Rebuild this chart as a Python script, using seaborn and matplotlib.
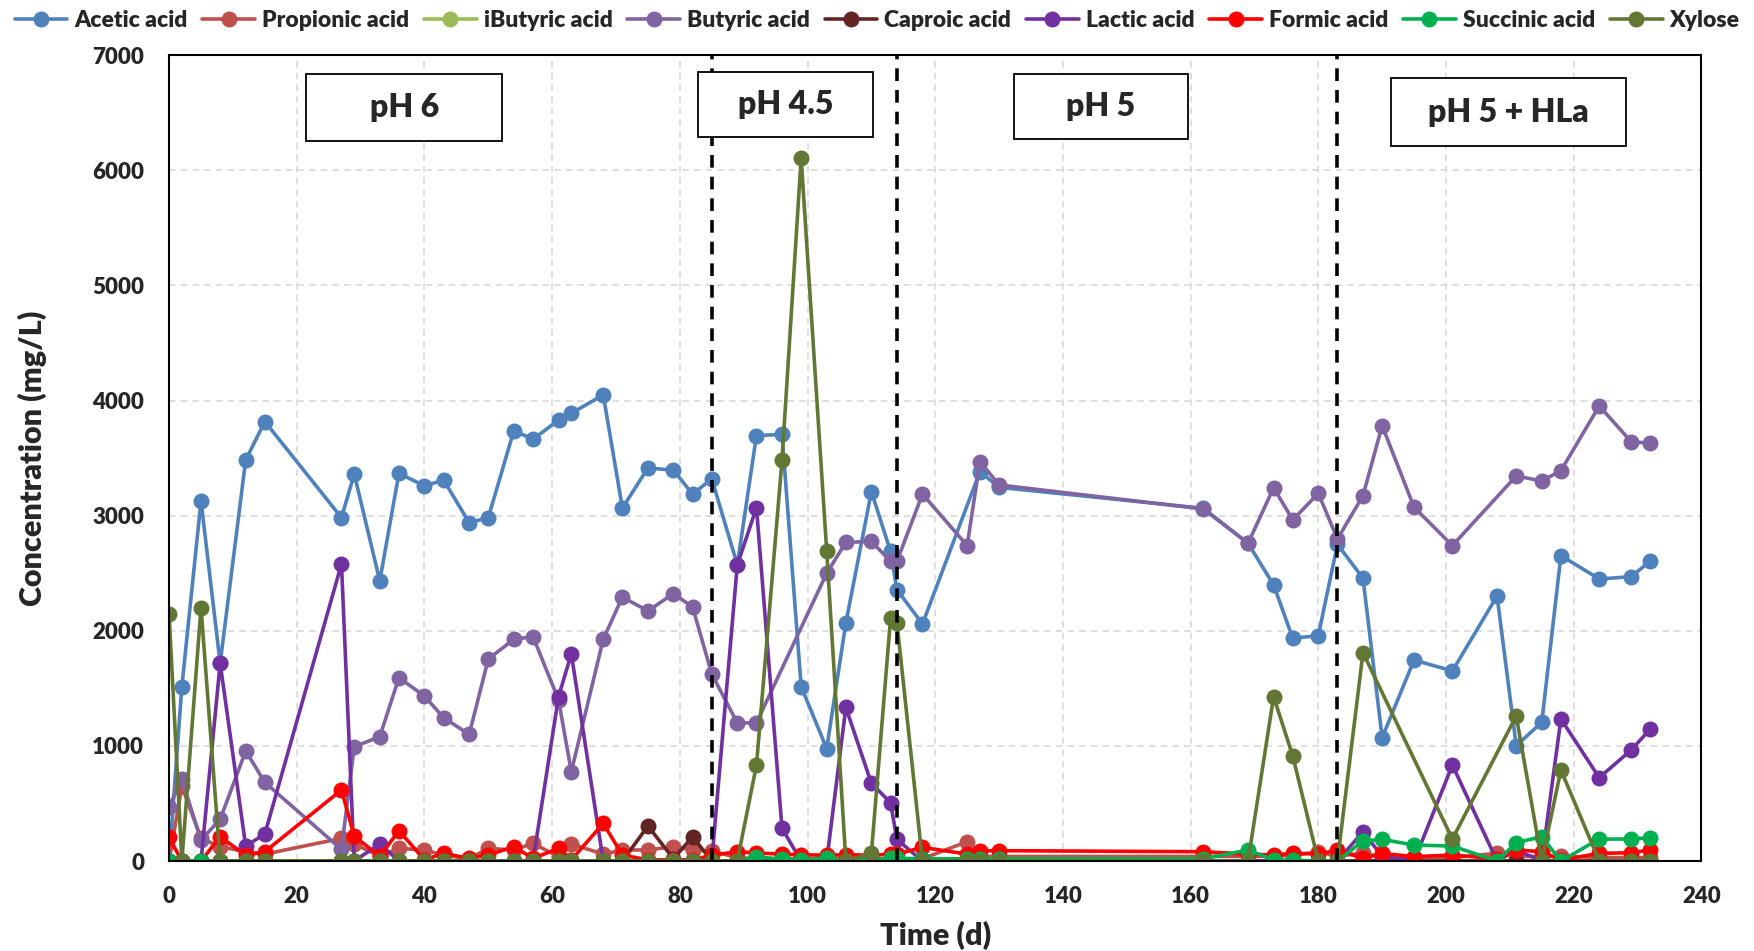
import numpy as np
import pandas as pd
import seaborn as sns
import matplotlib.pyplot as plt
from matplotlib.lines import Line2D
from matplotlib.patches import Rectangle

nan = np.nan

# sampling days (d)
days = [0, 2, 5, 8, 12, 15, 27, 29, 33, 36, 40, 43, 47, 50, 54, 57, 61, 63, 68, 71,
        75, 79, 82, 85, 89, 92, 96, 99, 103, 106, 110, 113, 114, 118, 125, 127, 130,
        162, 169, 173, 176, 180, 183, 187, 190, 195, 201, 208, 211, 215, 218, 224, 229, 232]

# concentrations (mg/L), nan = not measured
acetic = [0, 1515, 3128, 1717, 3484, 3817, 2983, 3362, 2433, 3368, 3258, 3310, 2939, 2983,
          3739, 3663, 3831, 3889, 4049, 3066, 3415, 3394, 3187, 3320, 2573, 3696, 3705, 1516,
          976, 2068, 3208, 2690, 2358, 2059, nan, 3383, 3246, 3064, 2760, 2398, 1935, 1958,
          2751, 2456, 1072, 1746, 1651, 2302, 1002, 1205, 2653, 2450, 2470, 2606]
propionic = [0, 650, 197, 125, 80, 60, 197, 150, 40, 110, 96, 52, 20, 110, 96, 153, 38, 148,
             60, 96, 96, 125, 96, 87, 30, 20, 20, 20, 20, 20, 20, 20, 20, 20, 168, 40, 40,
             40, 40, 40, 50, 81, 40, 72, 30, 30, 30, 67, 40, 40, 43, 30, 30, 30]
ibutyric = [0] * 54
butyric = [472, 709, 182, 362, 956, 683, 101, 993, 1080, 1593, 1433, 1245, 1100, 1755, 1926,
           1949, 1400, 776, 1926, 2293, 2172, 2323, 2206, 1624, 1200, 1200, nan, nan, 2500,
           2768, 2776, 2604, 2604, 3187, 2740, 3469, 3267, 3058, 2760, 3243, 2963, 3194, 2797,
           3174, 3782, 3073, 2740, nan, 3345, 3301, 3391, 3953, 3643, 3629]
caproic = [0, 0, 0, 0, 0, 0, 0, 0, 0, 0, 0, 0, 0, 0, 0, 0, 0, 0, 0, 0, 304, 20, 211, 0, 0,
           0, 0, 0, 0, 0, 0, 0, 0, 0, 0, 0, 0, 0, 0, 0, 0, 0, 0, 0, 0, 0, 0, 0, 0, 0, 0, 0, 0, 0]
lactic = [0, 0, 0, 1717, 130, 235, 2580, 0, 148, 0, 0, 0, 0, 0, 0, 0, 1428, 1800, 0, 0, 0, 0,
          0, 0, 2573, 3070, 284, 0, 0, 1334, 675, 507, 188, 0, 0, 0, 0, 0, 0, 0, 0, 0, 0, 255,
          40, 0, 834, 0, 96, 0, 1234, 724, 964, 1147]
formic = [205, 0, 0, 211, 50, 81, 617, 217, 40, 264, 10, 67, 23, 52, 125, 23, 110, 10, 327, 52,
          10, 10, 10, 50, 81, 70, 60, 55, 50, 55, 50, 60, 60, 119, 60, 90, 90, 81, 60, 52, 67,
          60, 96, 23, 67, 38, 52, 20, 96, 81, 9, 67, 72, 96]
succinic = [0, 0, 0, 0, 0, 0, 0, 0, 0, 0, 0, 0, 0, 0, 0, 0, 0, 0, 0, 0, 0, 0, 0, 0, 0, 38, 15,
            10, 23, 0, 10, 23, 23, 20, 20, 20, 20, 20, 96, 9, 9, 0, 0, 174, 188, 139, 130, 0,
            159, 211, 0, 191, 191, 203]
xylose = [2143, 0, 2201, 0, 0, 0, 0, 0, 0, 0, 0, 0, 0, 0, 0, 0, 0, 0, 0, 0, 0, 0, 0, 0, 0,
          833, 3480, 6106, 2694, 0, 67, 2107, 2070, 0, 0, 0, 0, 0, 0, 1428, 912, 0, 0, 1810,
          nan, nan, 191, nan, 1260, 0, 791, 0, 0, 0]

series_names = ['Acetic acid', 'Propionic acid', 'iButyric acid', 'Butyric acid', 'Caproic acid',
                'Lactic acid', 'Formic acid', 'Succinic acid', 'Xylose']
series_values = [acetic, propionic, ibutyric, butyric, caproic, lactic, formic, succinic, xylose]
series_colors = ['#4F81BD', '#C0504D', '#9BBB59', '#8064A2', '#632523',
                 '#7030A0', '#FF0000', '#00B050', '#637735']

# phase changes and labels
phase_bounds = [85, 114, 183]
phase_labels = ['pH 6', 'pH 4.5', 'pH 5', 'pH 5 + HLa']
phase_boxes = [(21.5, 6256, 30.7, 583), (82.9, 6285, 27.3, 573),
               (132.3, 6273, 27.3, 566), (191.4, 6207, 36.8, 593)]

sns.set_theme(style='white')
plt.rcParams['font.family'] = ['Lato', 'DejaVu Sans']
plt.rcParams['font.weight'] = 'heavy'

fig, ax = plt.subplots(figsize=(17.54, 9.51), dpi=100)
fig.subplots_adjust(left=0.0964, right=0.970, bottom=0.0946, top=0.942)

for name, vals, col in zip(series_names, series_values, series_colors):
    df = pd.DataFrame({'Time (d)': days, 'conc': vals}).dropna()
    sns.lineplot(data=df, x='Time (d)', y='conc', color=col, marker='o', markersize=11.5,
                 markeredgewidth=0, linewidth=2.6, ax=ax, legend=False, estimator=None)

for d in phase_bounds:
    ax.axvline(d, color='black', linestyle=(0, (3.5, 2.5)), linewidth=2.6, zorder=5)

for lab, (x0, y0, w, h) in zip(phase_labels, phase_boxes):
    ax.add_patch(Rectangle((x0, y0), w, h, facecolor='white', edgecolor='black',
                           linewidth=1.3, zorder=6))
    ax.text(x0 + w / 2, y0 + h / 2, lab, ha='center', va='center', fontsize=23,
            fontweight='heavy', zorder=7)

ax.set_xlim(0, 240)
ax.set_ylim(0, 7000)
ax.set_xticks(range(0, 241, 20))
ax.set_yticks(range(0, 7001, 1000))
ax.grid(True, color='#D9D9D9', linestyle=(0, (4, 3)), linewidth=1.2)
ax.set_axisbelow(True)
for sp in ax.spines.values():
    sp.set_color('black')
    sp.set_linewidth(1.5)
ax.tick_params(axis='both', labelsize=16, pad=12)
for t in ax.get_xticklabels() + ax.get_yticklabels():
    t.set_fontweight('heavy')
ax.set_xlabel('Time (d)', fontsize=22, fontweight='heavy')
ax.set_ylabel('Concentration (mg/L)', fontsize=22, fontweight='heavy')
ax.yaxis.set_label_coords(-0.0796, 0.5)
ax.xaxis.set_label_coords(0.5, -0.0744)

handles = [Line2D([], [], color=c, marker='o', markersize=11.5, markeredgewidth=0, linewidth=2.6)
           for c in series_colors]
fig.legend(handles, series_names, loc='upper center', bbox_to_anchor=(0.5, 1.004), ncol=9,
           frameon=False, handlelength=2.3, columnspacing=0.65, handletextpad=0.3,
           borderaxespad=0.2, prop={'weight': 'heavy', 'size': 16.5})

fig.savefig('out.png', dpi=100)
